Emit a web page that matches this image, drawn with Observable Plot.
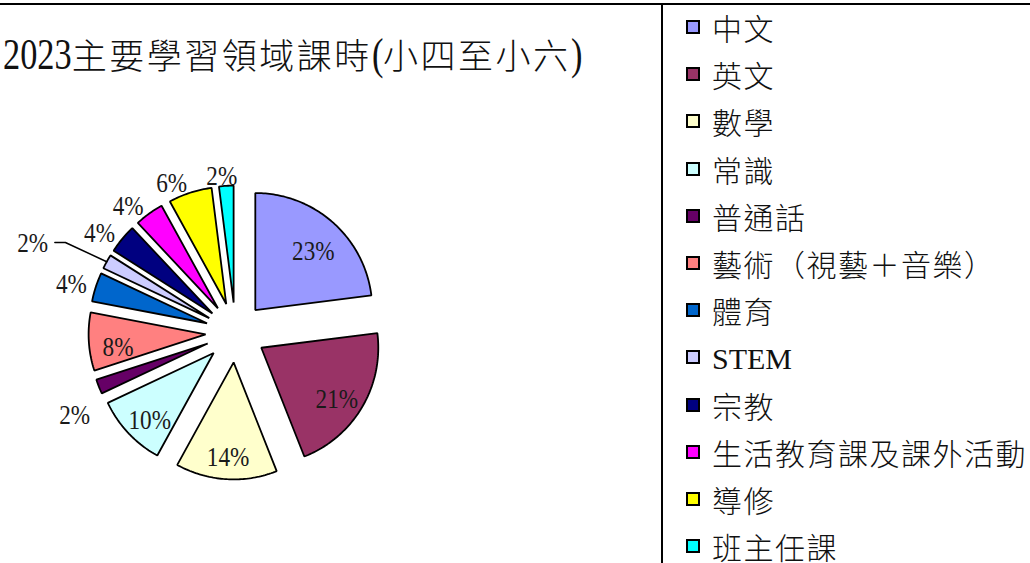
<!DOCTYPE html>
<html><head><meta charset="utf-8">
<script src="https://cdn.jsdelivr.net/npm/d3@7"></script>
<script src="https://cdn.jsdelivr.net/npm/@observablehq/plot@0.6"></script>
<style>
body{margin:0;background:#fff;}
#page{position:relative;width:1030px;height:563px;overflow:hidden;background:#fff;}
#topline{position:absolute;left:0;top:3px;width:1030px;height:2px;background:#000;}
#vline{position:absolute;left:661px;top:3px;width:2px;height:560px;background:#000;}
#title{position:absolute;left:3px;top:32px;font-family:"Noto Sans CJK TC";font-size:35px;line-height:44px;letter-spacing:2.5px;font-weight:300;color:#111;white-space:nowrap;}
#title .lat{font-family:"Liberation Serif";font-weight:400;font-size:44px;display:inline-block;transform:scaleX(0.78);transform-origin:0 50%;letter-spacing:0;}
#chart{position:absolute;left:0;top:100px;}
#legend{position:absolute;left:686px;top:0;}
.item{position:absolute;left:0;height:30px;display:flex;align-items:center;white-space:nowrap;}
.sw{width:10px;height:10px;border:2px solid #000;margin-right:12px;flex:none;}
.lab{font-family:"Noto Sans CJK TC";font-size:30px;font-weight:300;letter-spacing:1.5px;color:#111;line-height:30px;}
.lab .lat{font-family:"Liberation Serif";font-weight:400;letter-spacing:0;}
</style></head>
<body>
<div id="page">
  <div id="topline"></div>
  <div id="vline"></div>
  <div id="title"></div>
  <div id="chart"></div>
  <div id="legend"></div>
</div>
<script>
const titleText = "2023主要學習領域課時(小四至小六)";
const categories = ["中文","英文","數學","常識","普通話","藝術（視藝＋音樂）","體育","STEM","宗教","生活教育課及課外活動","導修","班主任課"];
const values = [23,21,14,10,2,8,4,2,4,4,6,2];
const colors = ["#9999FF","#993366","#FFFFCC","#CCFFFF","#660066","#FF8080","#0066CC","#CCCCFF","#000080","#FF00FF","#FFFF00","#00FFFF"];

// layout
const W = 660, H = 463, R = 117, cx = 235, cy = 232;
const explode = 0.256;      // fraction of radius
const insideR = 0.75, outsideR = 1.08, labelDrop = 7 / R;
const fs = 27, sx = 0.86, boxH = 25;
const leaderCat = "STEM";

function fillMixed(el, str) {
  for (const part of str.split(/([\x00-\x7F]+)/)) {
    if (!part) continue;
    if (/^[\x00-\x7F]+$/.test(part)) {
      const s = document.createElement("span");
      s.className = "lat"; s.textContent = part; el.appendChild(s);
    } else el.appendChild(document.createTextNode(part));
  }
}

const titleEl = document.getElementById("title");
fillMixed(titleEl, titleText);
titleEl.querySelectorAll(".lat").forEach(s => { s.style.marginRight = (-(1 - 0.78) * s.offsetWidth) + "px"; });

const total = d3.sum(values);
let acc = 0;
const slices = categories.map((name, i) => {
  const a0 = acc / total * 2 * Math.PI;
  acc += values[i];
  const a1 = acc / total * 2 * Math.PI;
  const mid = (a0 + a1) / 2;
  return {name, value: values[i], a0, a1, mid,
    ox: explode * Math.sin(mid), oy: explode * Math.cos(mid),
    pct: Math.round(values[i] / total * 100) + "%"};
});

const pts = [];
for (const s of slices) {
  pts.push({name: s.name, x: s.ox, y: s.oy});
  const n = Math.max(4, Math.ceil((s.a1 - s.a0) / (Math.PI / 180)));
  for (let k = 0; k <= n; k++) {
    const t = s.a0 + (s.a1 - s.a0) * k / n;
    pts.push({name: s.name, x: s.ox + Math.sin(t), y: s.oy + Math.cos(t)});
  }
}

const textW = t => ((t.length - 1) * 0.5 + 0.833) * fs * sx;
const labelPts = [];
const leader = [];
for (const s of slices) {
  const frac = s.value / total;
  const sn = Math.sin(s.mid), cs = Math.cos(s.mid);
  if (s.name === leaderCat) {
    const ang = s.mid - 5 * Math.PI / 180, r = 1.65;
    const lx = s.ox + r * Math.sin(ang), ly = s.oy + r * Math.cos(ang) - 0.03;
    labelPts.push({x: lx, y: ly, text: s.pct});
    leader.push({x: s.ox + sn, y: s.oy + cs});
    leader.push({x: lx + 0.28, y: ly + 0.01});
    leader.push({x: lx + 0.19, y: ly + 0.01});
  } else if (frac >= 0.07) {
    labelPts.push({x: s.ox + insideR * sn, y: s.oy + insideR * cs - labelDrop, text: s.pct});
  } else {
    // outside label: box anchored at the end of the ray
    const w = textW(s.pct);
    const offX = Math.sign(sn) * (w / 2) * Math.min(1, Math.abs(sn) / 0.25);
    const offY = cs < 0 ? boxH * Math.min(1, -cs / 0.3) : 0;
    labelPts.push({x: s.ox + outsideR * sn + offX / R, y: s.oy + outsideR * cs - offY / R, text: s.pct});
  }
}

const chart = Plot.plot({
  width: W, height: H, margin: 0,
  x: {domain: [-cx / R, (W - cx) / R], axis: null},
  y: {domain: [-(H - cy) / R, cy / R], axis: null},
  color: {domain: categories, range: colors},
  style: {background: "transparent", overflow: "visible"},
  marks: [
    Plot.line(pts, {x: "x", y: "y", z: "name", fill: "name", stroke: "#000", strokeWidth: 1.8, curve: "linear-closed", strokeLinejoin: "miter"}),
    Plot.line(leader, {x: "x", y: "y", stroke: "#000", strokeWidth: 1.5}),
    Plot.text(labelPts, {x: "x", y: "y", text: "text", fontSize: fs, fontFamily: "Liberation Serif", fill: "#1a1a1a"})
  ]
});
// horizontally condense the percentage labels (narrow serif look)
chart.querySelectorAll('g[aria-label="text"] text').forEach(t => {
  const tr = t.getAttribute("transform");
  if (tr) {
    t.setAttribute("transform", tr + ` scale(${sx},1)`);
  } else {
    const x = +t.getAttribute("x") || 0, y = +t.getAttribute("y") || 0;
    t.removeAttribute("x"); t.removeAttribute("y");
    t.setAttribute("transform", `translate(${x},${y}) scale(${sx},1)`);
  }
});
document.getElementById("chart").appendChild(chart);

const legend = document.getElementById("legend");
categories.forEach((c, i) => {
  const item = document.createElement("div");
  item.className = "item";
  item.style.top = (27 + i * 47.2 - 15) + "px";
  const sw = document.createElement("div");
  sw.className = "sw";
  sw.style.background = colors[i];
  const lab = document.createElement("span");
  lab.className = "lab";
  fillMixed(lab, c);
  item.appendChild(sw); item.appendChild(lab);
  legend.appendChild(item);
});
</script>
</body></html>
